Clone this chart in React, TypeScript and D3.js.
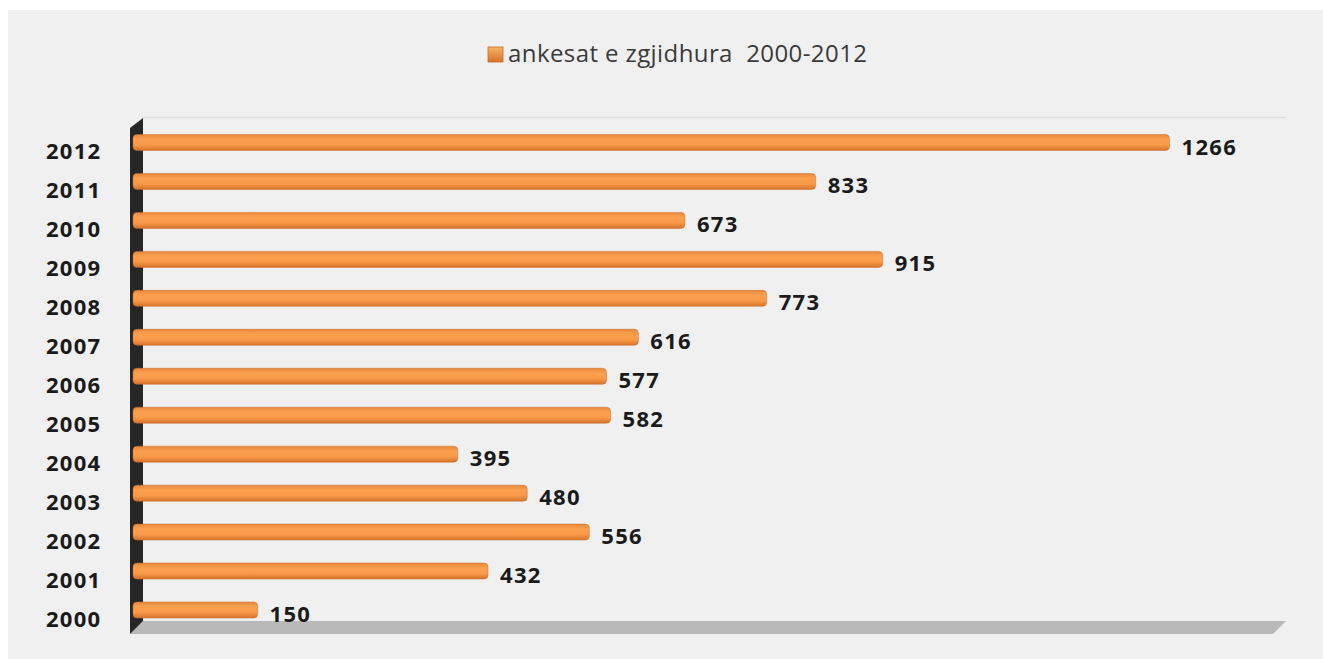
import * as d3 from 'd3';

const years = ['2012', '2011', '2010', '2009', '2008', '2007', '2006', '2005', '2004', '2003', '2002', '2001', '2000'];
const values = [1266, 833, 673, 915, 773, 616, 577, 582, 395, 480, 556, 432, 150];
const legendLabel = 'ankesat e zgjidhura  2000-2012';

const W = 1323;
const H = 659;

const App = () => {
  const x = d3.scaleLinear().domain([0, 1400]).range([135, 1279]);
  const y = d3.scalePoint<string>().domain(years).range([142.5, 610]);
  const barH = 16;

  const font = '"Open Sans", "Liberation Sans", sans-serif';

  return (
    <svg width={W} height={H} style={{ position: 'absolute', left: 0, top: 0 }}>
      <defs>
        <linearGradient id="barGrad" x1="0" y1="0" x2="0" y2="1">
          <stop offset="0" stopColor="#e8873a" />
          <stop offset="0.3" stopColor="#fba04f" />
          <stop offset="0.65" stopColor="#f99a48" />
          <stop offset="1" stopColor="#d6732c" />
        </linearGradient>
        <linearGradient id="legGrad" x1="0" y1="0" x2="0" y2="1">
          <stop offset="0" stopColor="#f7b267" />
          <stop offset="1" stopColor="#d9712a" />
        </linearGradient>
      </defs>
      <rect x={8} y={10} width={W - 8} height={H - 10} fill="#f0f0f0" />

      {/* back wall top edge */}
      <line x1={143} x2={1286} y1={117.5} y2={117.5} stroke="#dedede" strokeWidth={1.5} />

      {/* floor */}
      <polygon points="142,621 1286,621 1273,634 130,634" fill="#b9b9b9" />
      {/* side wall */}
      <polygon points="130,128 143,118 143,621 130,634" fill="#262626" />

      {/* legend */}
      <rect x={488} y={47} width={15} height={15} fill="url(#legGrad)" stroke="#c9691f" strokeWidth={0.8} />
      <text
        x={508}
        y={62}
        fontFamily={font}
        fontSize={24}
        fill="#3a3a3a"
        textLength={359}
        lengthAdjust="spacing"
        style={{ whiteSpace: 'pre' }}
      >
        {legendLabel}
      </text>

      {years.map((yr, i) => {
        const cy = y(yr) as number;
        const v = values[i];
        const x0 = x(0) - 2;
        const x1 = x(v);
        return (
          <g key={yr}>
            <rect
              x={x0}
              y={cy - barH / 2}
              width={x1 - x0}
              height={barH}
              rx={4}
              ry={4}
              fill="url(#barGrad)"
              stroke="#c8692a"
              strokeOpacity={0.6}
              strokeWidth={0.8}
            />
            <text
              x={101.5}
              y={cy + 16.5}
              textAnchor="end"
              fontFamily={font}
              fontWeight={700}
              fontSize={22}
              letterSpacing={1.3}
              fill="#1a1a1a"
            >
              {yr}
            </text>
            <text
              x={x1 + 12}
              y={cy + 12}
              fontFamily={font}
              fontWeight={700}
              fontSize={22}
              letterSpacing={1.3}
              fill="#1a1a1a"
            >
              {v}
            </text>
          </g>
        );
      })}
    </svg>
  );
};

export default App;
